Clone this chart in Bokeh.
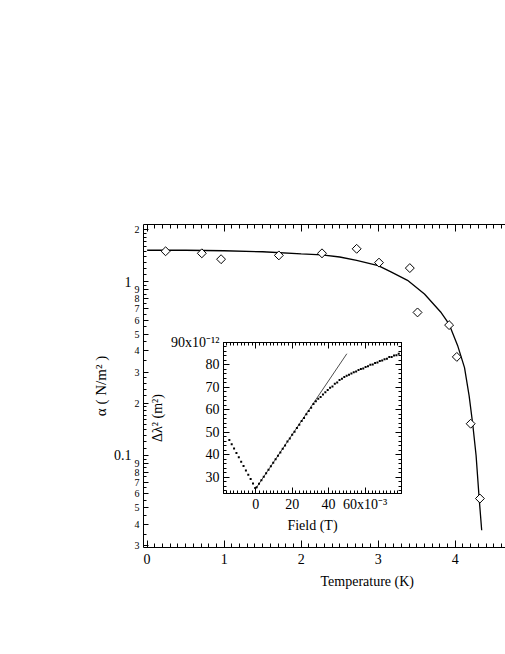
from bokeh.plotting import figure
from bokeh.models import Range1d, FixedTicker, LinearAxis, LogAxis, Title
from bokeh.embed import file_html
from bokeh.resources import INLINE

# ---------------- data: main panel ----------------
temp_K = [0.24, 0.71, 0.96, 1.71, 2.27, 2.72, 3.01, 3.41, 3.51, 3.92, 4.02, 4.20, 4.32]
alpha_N_m2 = [1.50, 1.46, 1.35, 1.42, 1.46, 1.55, 1.29, 1.20, 0.666, 0.563, 0.369, 0.152, 0.0563]

fit_T = [0.0, 0.5, 1.0, 1.5, 2.0, 2.27, 2.5, 2.72, 3.0, 3.165, 3.38, 3.6, 3.81, 3.92,
         4.03, 4.12, 4.18, 4.226, 4.27, 4.31, 4.343]
fit_alpha = [1.52, 1.52, 1.51, 1.49, 1.45, 1.43, 1.39, 1.33, 1.24, 1.14, 1.02, 0.85, 0.67, 0.57,
             0.43, 0.32, 0.22, 0.152, 0.10, 0.0565, 0.037]

x_ticks = [0, 1, 2, 3, 4]
y_major_ticks = [0.1, 1]
y_major_labels = ["0.1", "1"]
y_minor_label_vals = [2, 0.9, 0.8, 0.7, 0.6, 0.5, 0.4, 0.3, 0.2,
                      0.09, 0.08, 0.07, 0.06, 0.05, 0.04, 0.03]
y_minor_label_txt = ["2", "9", "8", "7", "6", "5", "4", "3", "2",
                     "9", "8", "7", "6", "5", "4", "3"]

# ---------------- data: inset (field in 1e-3 T, dlambda^2 in 1e-12 m^2) ----------------
field_mT = [-14.5, -13.2, -11.9, -10.6, -9.3, -8.0, -6.7, -5.4, -4.1, -2.8, -1.5, -0.3,
            0.5, 1.8, 3.1, 4.4, 5.7, 7.0, 8.3, 9.6, 10.9, 12.2, 13.5, 14.8, 16.1, 17.4,
            18.7, 20.0, 21.3, 22.6, 23.9, 25.2, 26.5, 27.8, 29.1, 30.4, 31.7, 33.0, 34.3,
            35.6, 36.9, 38.2, 39.5, 40.8, 42.1, 43.4, 44.7, 46.0, 47.3, 48.6, 49.9, 51.2,
            52.5, 53.8, 55.1, 56.4, 57.7, 59.0, 60.3, 61.6, 62.9, 64.2, 65.5, 66.8, 68.1,
            69.4, 70.7, 72.0, 73.3, 74.6, 75.9, 77.2, 78.5]
dlambda2 = [46.6, 44.7, 42.8, 40.8, 38.9, 36.9, 35.0, 33.0, 31.1, 29.2, 27.2, 25.3,
            25.6, 27.1, 28.7, 30.2, 31.8, 33.4, 34.9, 36.5, 38.0, 39.6, 41.1, 42.7, 44.2, 45.9,
            47.3, 48.9, 50.3, 52.0, 53.4, 55.1, 56.4, 58.1, 59.5, 61.0, 62.6, 63.9, 65.0,
            65.7, 66.9, 67.9, 68.9, 69.9, 70.4, 71.6, 72.2, 73.3, 73.9, 74.6, 75.2, 75.7,
            76.2, 76.8, 77.1, 77.8, 78.2, 78.4, 79.1, 79.4, 80.1, 80.2, 80.9, 81.1, 81.8,
            82.0, 82.6, 82.8, 83.5, 83.6, 84.2, 84.3, 85.0]
line_field = [0, 50]
line_dlambda2 = [25, 85]

inset_x_ticks = [0, 20, 40, 60]
inset_y_ticks = [30, 40, 50, 60, 70, 80, 90]

FONT = "Liberation Serif"


def style_axis(ax, tick_in, minor_in, label_size, show_labels=True):
    ax.axis_line_color = "black"
    ax.major_tick_line_color = "black"
    ax.minor_tick_line_color = "black"
    ax.major_tick_in = tick_in
    ax.major_tick_out = 0
    ax.minor_tick_in = minor_in
    ax.minor_tick_out = 0
    ax.major_label_text_font = FONT
    ax.major_label_text_font_size = label_size
    ax.major_label_text_color = "black" if show_labels else None
    ax.axis_label_text_font = FONT
    ax.axis_label_text_font_style = "normal"
    ax.axis_label_text_color = "black"


# ---------------- main figure ----------------
x_lo, x_hi = -0.047, 4.652
y_lo, y_hi = 0.0294, 2.14
p = figure(width=505, height=607, x_range=Range1d(x_lo, x_hi), y_range=Range1d(y_lo, y_hi),
           y_axis_type="log", output_backend="svg", toolbar_location=None,
           min_border_left=143, min_border_right=0, min_border_top=224, min_border_bottom=60,
           outline_line_color=None, background_fill_color="white", border_fill_color="white")
p.grid.visible = False
bottom_ax = p.below[0]
inner_left = p.left[0]

x_minor = [round(i * 0.1, 2) for i in range(0, 47)]
bottom_ax.ticker = FixedTicker(ticks=x_ticks, minor_ticks=x_minor)
style_axis(bottom_ax, 7, 4, "14px")
bottom_ax.major_label_standoff = 6

top_ax = LinearAxis(ticker=FixedTicker(ticks=x_ticks, minor_ticks=x_minor))
p.add_layout(top_ax, "above")
style_axis(top_ax, 7, 4, "14px", show_labels=False)

# log axis: fine minor ticks, small labels for 2..9 (inner), big labels for decades (outer)
y_minor = []
for dec in [0.01, 0.1, 1.0]:
    for m in [1.1, 1.2, 1.3, 1.4, 1.5, 1.6, 1.7, 1.8, 1.9, 2.2, 2.4, 2.6, 2.8,
              3.5, 4.5, 5.5, 6.5, 7.5, 8.5, 9.5]:
        v = round(m * dec, 6)
        if y_lo <= v <= y_hi:
            y_minor.append(v)
inner_ticks = y_minor_label_vals + y_major_ticks
inner_left.ticker = FixedTicker(ticks=inner_ticks, minor_ticks=y_minor)
inner_over = dict(zip(y_minor_label_vals, y_minor_label_txt))
for v in y_major_ticks:
    inner_over[v] = ""
inner_left.major_label_overrides = inner_over
style_axis(inner_left, 5, 3, "10px")
inner_left.major_label_standoff = 4

outer_left = LogAxis(ticker=FixedTicker(ticks=y_major_ticks, minor_ticks=[]))
p.add_layout(outer_left, "left")
style_axis(outer_left, 0, 0, "14px")
outer_left.axis_line_color = None
outer_left.major_tick_line_color = None
outer_left.minor_tick_line_color = None
outer_left.major_label_standoff = 0
outer_left.major_label_overrides = dict(zip(y_major_ticks, y_major_labels))
outer_left.axis_label = "α ( N/m² )"
outer_left.axis_label_text_font_size = "15px"
outer_left.axis_label_standoff = 2

p.add_layout(Title(text="Temperature (K)", align="left", offset=177, text_font=FONT,
                   text_font_size="14px", text_font_style="normal", text_color="black",
                   standoff=10), "below")

p.line(fit_T, fit_alpha, line_color="black", line_width=1.3)
p.scatter(temp_K, alpha_N_m2, marker="square", angle=0.785398, size=6.3,
          fill_color="white", line_color="black", line_width=1)

# ---------------- inset figure ----------------
inset = figure(width=280, height=211, x_range=Range1d(-17.7, 80), y_range=Range1d(22.8, 90),
               output_backend="svg", toolbar_location=None,
               min_border_left=90, min_border_right=12, min_border_top=10, min_border_bottom=50,
               background_fill_color="white", border_fill_alpha=0, outline_line_color="black",
               styles={"position": "absolute", "left": "133px", "top": "332px"})
inset.grid.visible = False
i_bottom = inset.below[0]
i_left = inset.left[0]
ix_minor = list(range(-16, 81, 2))
iy_minor = list(range(24, 91, 2))
i_bottom.ticker = FixedTicker(ticks=inset_x_ticks, minor_ticks=ix_minor)
i_left.ticker = FixedTicker(ticks=inset_y_ticks, minor_ticks=iy_minor)
i_bottom.major_label_overrides = {60: "60x10⁻³"}
i_left.major_label_overrides = {90: "90x10⁻¹²"}
i_bottom.axis_label = "Field (T)"
i_left.axis_label = "Δλ² (m²)"
i_top = LinearAxis(ticker=FixedTicker(ticks=inset_x_ticks, minor_ticks=ix_minor))
i_right = LinearAxis(ticker=FixedTicker(ticks=inset_y_ticks, minor_ticks=iy_minor))
inset.add_layout(i_top, "above")
inset.add_layout(i_right, "right")
for ax in [i_bottom, i_left]:
    style_axis(ax, 6, 3, "14px")
    ax.axis_label_text_font_size = "14px"
for ax in [i_top, i_right]:
    style_axis(ax, 6, 3, "14px", show_labels=False)
i_bottom.major_label_standoff = 3
i_left.major_label_standoff = 4
i_bottom.axis_label_standoff = 3
i_left.axis_label_standoff = 3

inset.line(line_field, line_dlambda2, line_color="black", line_width=0.7)
inset.scatter(field_mT, dlambda2, marker="square", size=2.0, fill_color="black",
              line_color=None)

open("out.html", "w").write(file_html([p, inset], INLINE))
